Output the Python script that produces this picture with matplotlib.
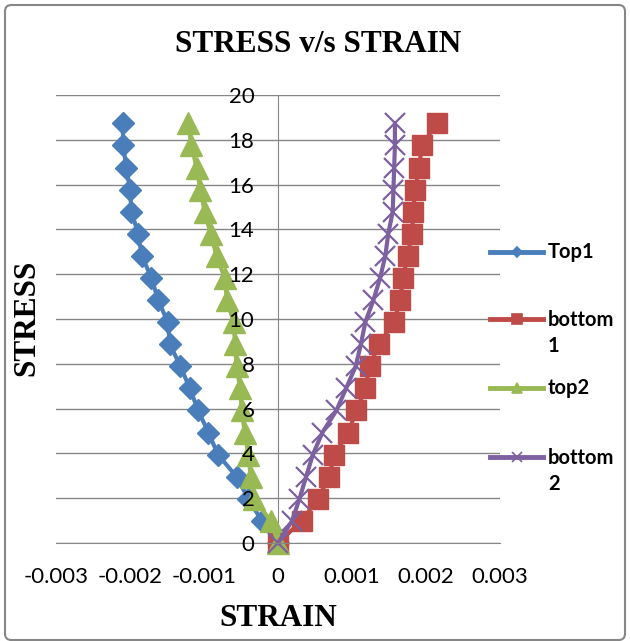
import matplotlib
matplotlib.use("Agg")
import matplotlib.pyplot as plt
from matplotlib.lines import Line2D
from matplotlib.patches import FancyBboxPatch

# stress levels (same for every gauge) and strain readings
stress = [0, 0.99, 1.97, 2.96, 3.94, 4.93, 5.92, 6.90, 7.89, 8.87,
          9.86, 10.85, 11.83, 12.82, 13.80, 14.79, 15.78, 16.76, 17.75, 18.73]

top1 = [0, -0.00022, -0.00040, -0.00056, -0.00081, -0.00094, -0.00108, -0.00119, -0.00132, -0.00146,
        -0.00149, -0.00162, -0.00171, -0.00184, -0.00189, -0.00198, -0.00200, -0.00205, -0.00209, -0.00210]
bottom1 = [0, 0.00032, 0.00054, 0.00069, 0.00076, 0.00095, 0.00106, 0.00118, 0.00124, 0.00136,
           0.00157, 0.00165, 0.00169, 0.00175, 0.00181, 0.00183, 0.00185, 0.00191, 0.00194, 0.00215]
top2 = [0, -0.00010, -0.00032, -0.00037, -0.00040, -0.00045, -0.00049, -0.00051, -0.00056, -0.00058,
        -0.00060, -0.00069, -0.00072, -0.00083, -0.00091, -0.00099, -0.00105, -0.00110, -0.00117, -0.00121]
bottom2 = [0, 0.00019, 0.00029, 0.00038, 0.00047, 0.00060, 0.00079, 0.00092, 0.00105, 0.00112,
           0.00118, 0.00129, 0.00138, 0.00145, 0.00149, 0.00155, 0.00156, 0.00157, 0.00158, 0.00158]

names = ["Top1", "bottom\n1", "top2", "bottom\n2"]
series = [top1, bottom1, top2, bottom2]
colors = ["#4A7EBB", "#BE4B48", "#98B954", "#7D60A0"]
markers = ["D", "s", "^", "x"]
msizes = [11, 14, 15.5, 14]
legend_ms = [5, 7, 7, 7]

xticks = [-0.003, -0.002, -0.001, 0, 0.001, 0.002, 0.003]
xticklabels = ["-0.003", "-0.002", "-0.001", "0", "0.001", "0.002", "0.003"]
yticks = [0, 2, 4, 6, 8, 10, 12, 14, 16, 18, 20]

W, H = 630, 641
fig = plt.figure(figsize=(W / 100, H / 100), dpi=100)
ax = fig.add_axes([56 / W, (H - 543) / H, 444 / W, 448 / H])

grey = "#868686"
# horizontal gridlines under the data, axis labels stay on top
for y in yticks:
    ax.axhline(y, color=grey, lw=1, zorder=0.5)

for x, c, m, ms in zip(series, colors, markers, msizes):
    if m == "x":
        ax.plot(x, stress, color=c, lw=3, marker=m, ms=ms, mew=1.6, clip_on=False, zorder=2)
    else:
        ax.plot(x, stress, color=c, lw=3, marker=m, ms=ms, mec=c, clip_on=False, zorder=2)

ax.set_xlim(-0.003, 0.003)
ax.set_ylim(0, 20)
ax.set_xticks(xticks)
ax.set_xticklabels(xticklabels)
ax.set_yticks(yticks)

for s in ["top", "right"]:
    ax.spines[s].set_visible(False)
ax.spines["left"].set_position(("data", 0))
ax.spines["left"].set_color(grey)
ax.spines["bottom"].set_color(grey)
ax.spines["left"].set_zorder(1)
ax.tick_params(axis="both", length=0, labelsize=16, labelcolor="black")
ax.tick_params(axis="y", pad=17)
ax.tick_params(axis="x", pad=17)
ax.yaxis.set_zorder(3)
for lab in ax.get_xticklabels() + ax.get_yticklabels():
    lab.set_fontfamily("Lato")

serif = dict(family="Liberation Serif", weight="bold", size=22.5)
fig.text(318 / W, 1 - 45 / H, "STRESS v/s STRAIN", ha="center", va="center", **serif)
fig.text(278 / W, 1 - 618 / H, "STRAIN", ha="center", va="center", **serif)
fig.text(27 / W, 1 - 318 / H, "STRESS", ha="center", va="center", rotation=90, **serif)

# legend on the right, first text line level with the sample line
legend_y = [252, 319, 388, 457]
for name, c, m, ms, y in zip(names, colors, markers, legend_ms, legend_y):
    fig.add_artist(Line2D([490 / W, 543 / W], [1 - y / H] * 2, color=c, lw=3.5,
                          transform=fig.transFigure))
    fig.add_artist(Line2D([516.5 / W], [1 - y / H], color=c, marker=m, ms=ms, mec=c,
                          mew=1.2, transform=fig.transFigure))
    for i, part in enumerate(name.split("\n")):
        fig.text(548 / W, 1 - (y + 6.5 + 26 * i) / H, part, ha="left", va="baseline",
                 family="Lato", weight="bold", size=14.5)

# chart border
fig.add_artist(FancyBboxPatch((5 / W, 1 / H), 620 / W, 635 / H,
                              boxstyle="round,pad=0,rounding_size=0.01",
                              transform=fig.transFigure, fill=False,
                              ec=grey, lw=1.5))

fig.savefig("out.png", dpi=100)
